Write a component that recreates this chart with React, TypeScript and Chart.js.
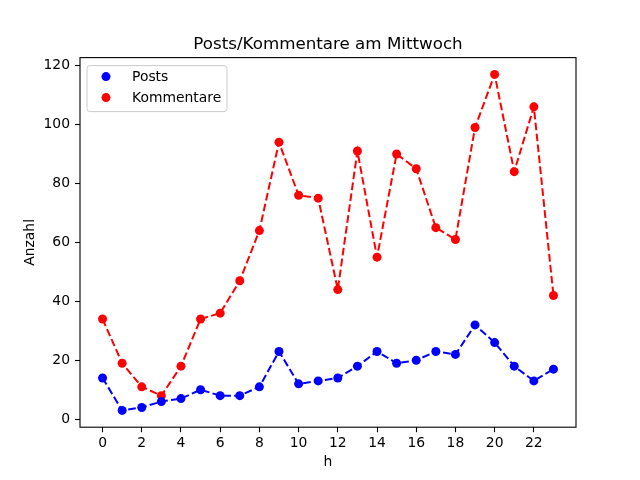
import Chart, { ChartTypeRegistry, Plugin } from 'chart.js/auto';
import { useEffect, useRef } from 'react';

const hours = [0, 1, 2, 3, 4, 5, 6, 7, 8, 9, 10, 11, 12, 13, 14, 15, 16, 17, 18, 19, 20, 21, 22, 23];
const posts = [14, 3, 4, 6, 7, 10, 8, 8, 11, 23, 12, 13, 14, 18, 23, 19, 20, 23, 22, 32, 26, 18, 13, 17];
const kommentare = [34, 19, 11, 8, 18, 34, 36, 47, 64, 94, 76, 75, 44, 91, 55, 90, 85, 65, 61, 99, 117, 84, 106, 42];
const xTicks = [0, 2, 4, 6, 8, 10, 12, 14, 16, 18, 20, 22];
const yTicks = [0, 20, 40, 60, 80, 100, 120];
const seriesLabels = ['Posts', 'Kommentare'];
const seriesColors = ['#0000ff', '#ff0000'];
const titleText = 'Posts/Kommentare am Mittwoch';

const FONT = 'DejaVu Sans';

// frame on all four sides, like matplotlib spines, plus the title centred over the axes
const framePlugin: Plugin = {
  id: 'frame',
  afterDraw(chart) {
    const { ctx, chartArea: a } = chart;
    ctx.save();
    ctx.strokeStyle = '#000';
    ctx.lineWidth = 1.1;
    ctx.strokeRect(a.left, a.top, a.right - a.left, a.bottom - a.top);
    ctx.font = `16.7px "${FONT}"`;
    ctx.fillStyle = '#000';
    ctx.textAlign = 'center';
    ctx.textBaseline = 'alphabetic';
    ctx.fillText(titleText, (a.left + a.right) / 2, a.top - 8.5);
    ctx.restore();
  },
};

// legend box inside the plot, top left
const legendPlugin: Plugin = {
  id: 'innerLegend',
  afterDraw(chart) {
    const { ctx, chartArea: a } = chart;
    const x = a.left + 7;
    const y = a.top + 8;
    const w = 140;
    const h = 46;
    ctx.save();
    ctx.beginPath();
    ctx.roundRect(x, y, w, h, 3);
    ctx.fillStyle = 'rgba(255,255,255,0.8)';
    ctx.fill();
    ctx.strokeStyle = '#cccccc';
    ctx.lineWidth = 1;
    ctx.stroke();
    ctx.font = `13.9px "${FONT}"`;
    ctx.textBaseline = 'middle';
    chart.data.datasets.forEach((ds, i) => {
      const cy = y + 11 + i * 21;
      ctx.beginPath();
      ctx.arc(x + 19, cy, 4.5, 0, Math.PI * 2);
      ctx.fillStyle = ds.borderColor as string;
      ctx.fill();
      ctx.fillStyle = '#000';
      ctx.fillText(ds.label as string, x + 45, cy + 1);
    });
    ctx.restore();
  },
};

export default function App() {
  const chartRef = useRef<HTMLCanvasElement | null>(null);

  useEffect(() => {
    if (!chartRef.current) return;
    document.body.style.margin = '0';

    const makeSet = (label: string, data: number[], color: string) => ({
      label,
      data: data.map((v, i) => ({ x: hours[i], y: v })),
      borderColor: color,
      backgroundColor: color,
      borderWidth: 2,
      borderDash: [7.7, 3.3],
      pointRadius: 4.5,
      pointBorderWidth: 0,
      pointHoverRadius: 4.5,
      fill: false,
      tension: 0,
    });

    const tickFont = { family: FONT, size: 13.9 };

    const config = {
      type: 'line' as keyof ChartTypeRegistry,
      data: {
        datasets: [
          makeSet(seriesLabels[0], posts, seriesColors[0]),
          makeSet(seriesLabels[1], kommentare, seriesColors[1]),
        ],
      },
      options: {
        animation: false,
        responsive: false,
        devicePixelRatio: 1,
        layout: { padding: { left: 0, right: 64, top: 57.6, bottom: 0 } },
        plugins: {
          legend: { display: false },
          tooltip: { enabled: false },
          title: { display: false },
        },
        scales: {
          x: {
            type: 'linear',
            min: -1.15,
            max: 24.15,
            afterBuildTicks: (s: any) => {
              s.ticks = xTicks.map((v) => ({ value: v }));
            },
            afterFit: (s: any) => {
              s.height = 52.8;
            },
            grid: { drawOnChartArea: false, drawTicks: true, tickLength: 5, tickColor: '#000', tickWidth: 1.1 },
            border: { display: false },
            ticks: { color: '#000', font: tickFont, padding: 3, maxRotation: 0 },
            title: {
              display: true,
              text: 'h',
              color: '#000',
              font: tickFont,
              padding: { top: 0, bottom: 9.7 },
            },
          },
          y: {
            type: 'linear',
            min: -2.7,
            max: 122.7,
            afterBuildTicks: (s: any) => {
              s.ticks = yTicks.map((v) => ({ value: v }));
            },
            afterFit: (s: any) => {
              s.width = 80;
            },
            grid: { drawOnChartArea: false, drawTicks: true, tickLength: 5, tickColor: '#000', tickWidth: 1.1 },
            border: { display: false },
            ticks: { color: '#000', font: tickFont, padding: 5 },
            title: {
              display: true,
              text: 'Anzahl',
              color: '#000',
              font: tickFont,
              padding: { top: 22, bottom: 0 },
            },
          },
        },
      },
      plugins: [framePlugin, legendPlugin],
    };
    const chart = new Chart(chartRef.current, config as any);

    return () => chart.destroy();
  }, []);

  return (
    <div style={{ position: 'fixed', left: 0, top: 0, width: 640, height: 480, background: '#fff' }}>
      <canvas ref={chartRef} width={640} height={480} style={{ width: 640, height: 480 }}></canvas>
    </div>
  );
}
